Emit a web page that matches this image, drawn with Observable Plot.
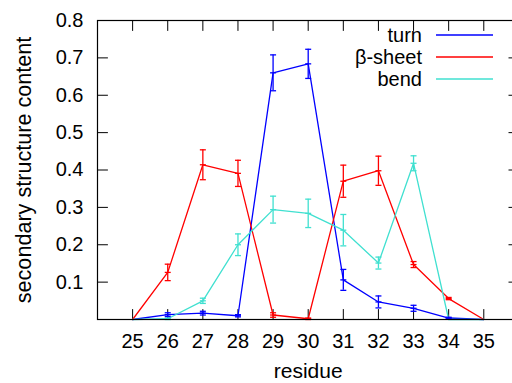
<!DOCTYPE html>
<html><head><meta charset="utf-8">
<script src="https://cdn.jsdelivr.net/npm/d3@7"></script>
<script src="https://cdn.jsdelivr.net/npm/@observablehq/plot@0.6"></script>
<style>html,body{margin:0;padding:0;background:white;overflow:hidden;}</style>
</head><body><div id="chart"></div>
<script>
// ---- data ----
const residues = [25, 26, 27, 28, 29, 30, 31, 32, 33, 34, 35];
const turn     = [0, 0.013, 0.017, 0.010, 0.660, 0.684, 0.106, 0.047, 0.030, 0.004, 0];
const turnErr  = [0, 0.005, 0.005, 0.003, 0.048, 0.039, 0.028, 0.016, 0.008, 0.002, 0];
const sheet    = [0, 0.126, 0.414, 0.391, 0.012, 0.002, 0.370, 0.398, 0.147, 0.056, 0];
const sheetErr = [0, 0.022, 0.040, 0.035, 0.006, 0.002, 0.043, 0.039, 0.008, 0.003, 0];
const bend     = [0, 0.002, 0.050, 0.200, 0.294, 0.284, 0.239, 0.151, 0.418, 0, 0];
const bendErr  = [0, 0.002, 0.007, 0.029, 0.036, 0.038, 0.042, 0.016, 0.020, 0, 0];
const seriesNames = ["turn", "β-sheet", "bend"];
const seriesColors = ["#0000ff", "#ff0000", "#40e0d0"];
const xTicks = [25, 26, 27, 28, 29, 30, 31, 32, 33, 34, 35];
const yTicks = [0.1, 0.2, 0.3, 0.4, 0.5, 0.6, 0.7, 0.8];
const yInnerTicks = [0.1, 0.2, 0.3, 0.4, 0.5, 0.6, 0.7];

// ---- build tables ----
const values = [turn, sheet, bend];
const errors = [turnErr, sheetErr, bendErr];
const rows = [];
values.forEach((vals, s) => vals.forEach((v, i) =>
  rows.push({series: seriesNames[s], x: residues[i], y: v, e: errors[s][i]})));
const errRows = rows.filter(d => d.e > 0);

const capShape = {draw(ctx) { ctx.moveTo(-3, 0); ctx.lineTo(3, 0); }};
const tickShape = {draw(ctx, l) { ctx.moveTo(0, 0); ctx.lineTo(0, -l); }};
const tickOpts = {length: 10, anchor: "start", shape: tickShape, stroke: "black", strokeWidth: 1};

const plot = Plot.plot({
  width: 512, height: 383,
  marginLeft: 97, marginTop: 20, marginBottom: 64, marginRight: -6.4,
  style: {fontFamily: "'Liberation Sans', Arial, sans-serif", fontSize: "20px", background: "white", color: "black"},
  x: {domain: [24, 36]},
  y: {domain: [0, 0.8]},
  color: {domain: seriesNames, range: seriesColors},
  marks: [
    Plot.axisX({ticks: xTicks, tickSize: 0, tickPadding: 14, tickFormat: d => String(d), label: null, fontSize: 20}),
    Plot.axisX({ticks: [], tickSize: 0, label: "residue", labelAnchor: "center", labelOffset: 58, labelArrow: "none", fontSize: 21}),
    Plot.axisY({ticks: yTicks, tickSize: 0, tickPadding: 14, tickFormat: d3.format(".1f"), label: null, fontSize: 20}),
    Plot.axisY({ticks: [], tickSize: 0, label: "secondary structure content", labelAnchor: "center", labelOffset: 82, labelArrow: "none", fontSize: 21.6}),
    Plot.vectorX(xTicks, {x: d => d, frameAnchor: "bottom", rotate: 0, ...tickOpts}),
    Plot.vectorX(xTicks, {x: d => d, frameAnchor: "top", rotate: 180, ...tickOpts}),
    Plot.vectorY(yInnerTicks, {y: d => d, frameAnchor: "left", rotate: 90, ...tickOpts}),
    Plot.vectorY(yInnerTicks, {y: d => d, frameAnchor: "right", rotate: -90, ...tickOpts}),
    Plot.line(rows, {x: "x", y: "y", z: "series", stroke: "series", strokeWidth: 1.3}),
    Plot.ruleX(errRows, {x: "x", y1: d => d.y - d.e, y2: d => d.y + d.e, stroke: "series", strokeWidth: 1.3}),
    Plot.dot(errRows, {x: "x", y: d => d.y + d.e, symbol: capShape, stroke: "series", fill: "none", strokeWidth: 1.3}),
    Plot.dot(errRows, {x: "x", y: d => d.y - d.e, symbol: capShape, stroke: "series", fill: "none", strokeWidth: 1.3}),
    Plot.dot(errRows, {x: "x", y: "y", symbol: capShape, stroke: "series", fill: "none", strokeWidth: 1.3}),
    Plot.frame({stroke: "black", strokeWidth: 1.2})
  ]
});

// legend (top right, inside the frame)
const svg = d3.select(plot);
const lg = svg.append("g").attr("font-size", 20);
seriesNames.forEach((name, i) => {
  const yy = 35 + 22 * i;
  lg.append("text").attr("x", 422).attr("y", yy).attr("dy", "0.35em")
    .attr("text-anchor", "end").attr("fill", "black").text(name);
  lg.append("line").attr("x1", 436).attr("x2", 493).attr("y1", yy).attr("y2", yy)
    .attr("stroke", seriesColors[i]).attr("stroke-width", 1.5);
});

document.getElementById("chart").append(plot);
</script>
</body></html>
